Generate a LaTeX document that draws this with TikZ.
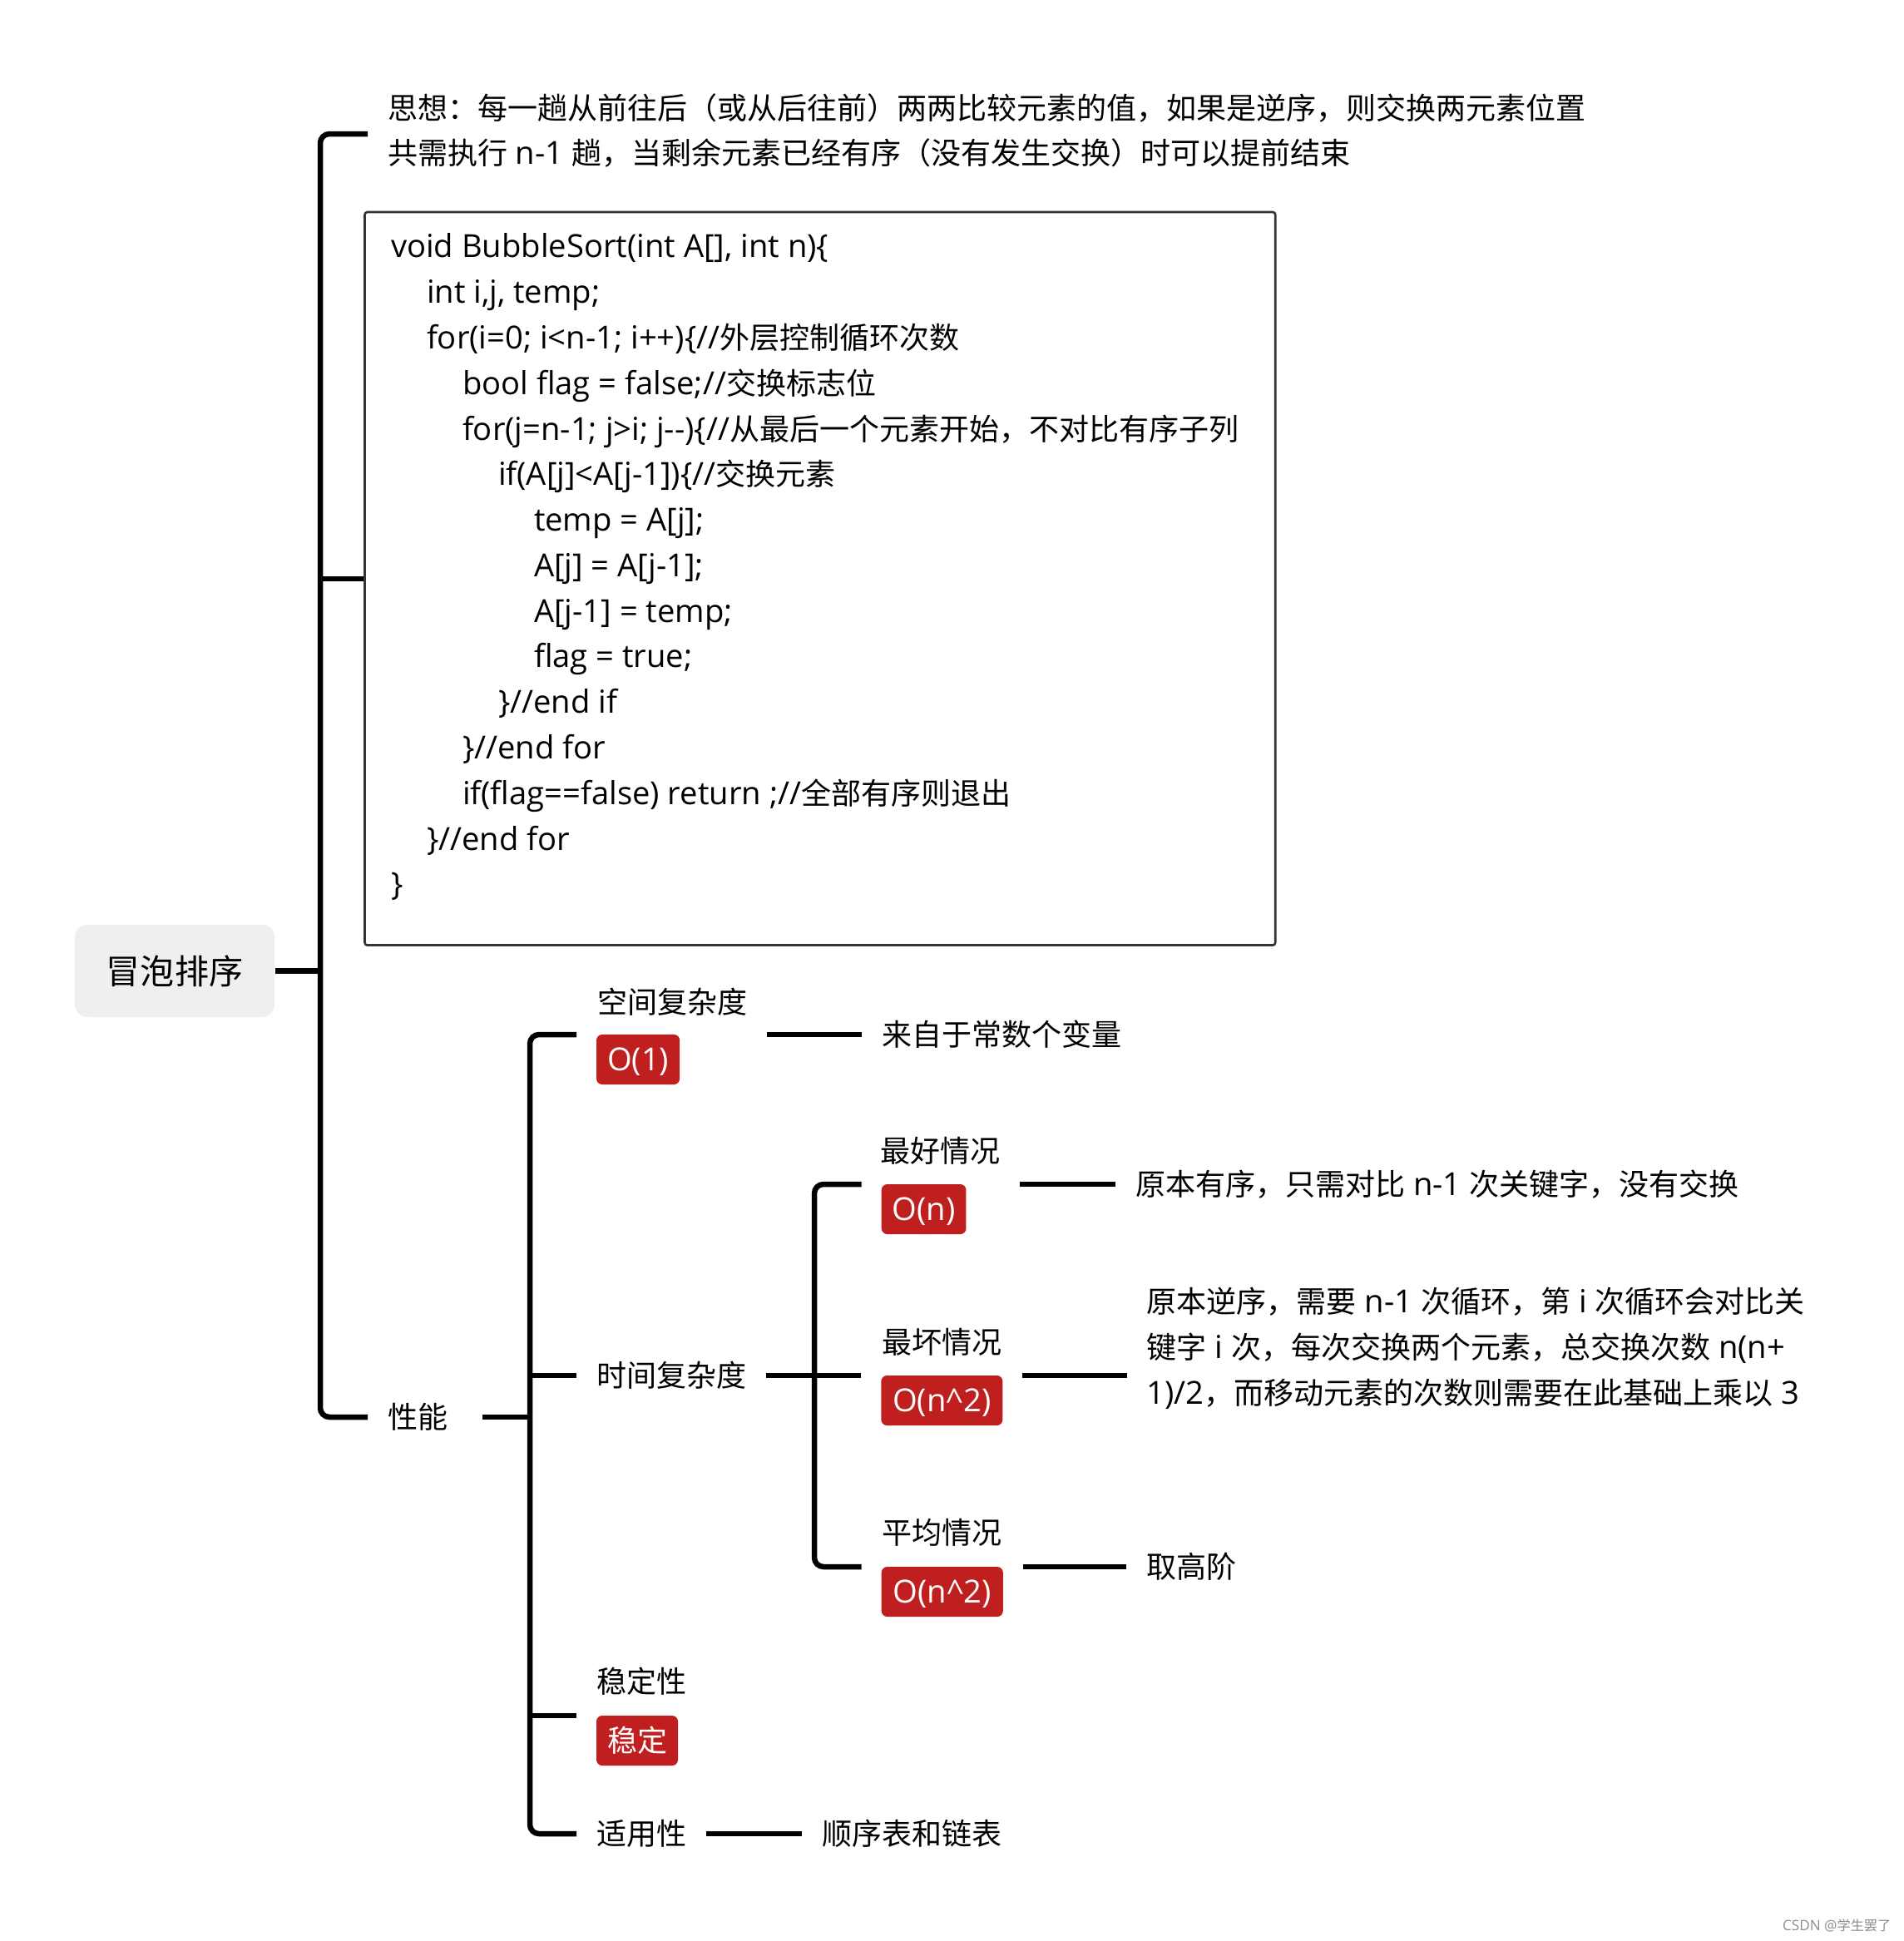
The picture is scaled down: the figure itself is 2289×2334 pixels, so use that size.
\documentclass[tikz,border=0pt]{standalone}
\usepackage{fontspec}
\setmainfont{Open Sans}[Scale=1.06]
\newfontfamily\zhfont{Noto Sans CJK SC}

% CJK characters switch to \zhfont by themselves
\newXeTeXintercharclass\zhclass
\newcount\zhcnt
\newcommand\zhrange[2]{\zhcnt=#1\relax
  \loop\XeTeXcharclass\zhcnt=\zhclass
  \ifnum\zhcnt<#2\advance\zhcnt by 1\repeat}
\zhrange{"3000}{"303F}
\zhrange{"4E00}{"9FFF}
\zhrange{"FF00}{"FFEF}
\XeTeXinterchartoks 0 \zhclass = {\begingroup\zhfont}
\XeTeXinterchartoks 4095 \zhclass = {\begingroup\zhfont}
\XeTeXinterchartoks \zhclass 0 = {\endgroup}
\XeTeXinterchartoks \zhclass 4095 = {\endgroup}
\XeTeXinterchartokenstate=1

\definecolor{tagred}{RGB}{192,31,31}
\definecolor{rootgray}{RGB}{239,239,239}

\newcommand\ind[1]{\hspace*{#1\dimexpr0.43cm\relax}\ignorespaces}
\newcommand\firstline{\rule{0pt}{1em}}
\newcommand\lastline{\rule[-0.5em]{0pt}{0pt}}

\tikzset{
  branch/.style={line width=1.85pt},
  txt/.style={inner sep=0pt, outer xsep=0.24cm, outer ysep=0pt,
    text height=9pt, text depth=1.23pt, anchor=west},
  desc/.style={inner sep=0pt, outer xsep=0.24cm, outer ysep=0pt,
    align=left, anchor=north west},
  tagbox/.style={fill=tagred, text=white, rounded corners=0.07cm,
    inner xsep=0.13cm, inner ysep=0pt, minimum height=0.6cm,
    text height=9pt, text depth=1.23pt, outer xsep=0.24cm, outer ysep=0pt,
    anchor=north west},
  rootbox/.style={fill=rootgray, rounded corners=0.15cm, inner sep=0pt,
    minimum width=2.4cm, minimum height=1.11cm,
    font=\fontsize{11.67pt}{14pt}\selectfont, text height=10.27pt, text depth=1.4pt},
  codebox/.style={draw=black!80, line width=0.75pt, rounded corners=0.03cm,
    inner sep=0pt, minimum width=10.94cm, minimum height=8.81cm},
}

\begin{document}
\begin{tikzpicture}[x=0.01cm, y=-0.01cm, font=\fontsize{10.24pt}{15.58pt}\selectfont]
  \useasboundingbox (0,0) rectangle (2289,2334);

  % root and first level
  \node[rootbox] (root) at (210,1167.5) {冒泡排序};
  \coordinate (j1) at (385,1167.5);

  \node[desc] (idea) at (442,105) {\firstline 思想：每一趟从前往后（或从后往前）两两比较元素的值，如果是逆序，则交换两元素位置\\
    共需执行 n-1 趟，当剩余元素已经有序（没有发生交换）时可以提前结束\lastline};

  \node[codebox] (code) at (985.85,695.8) {};
  \node[desc, outer xsep=0pt] (codetxt) at (470,271.7) {\firstline void BubbleSort(int A[], int n)\{\\
    \ind{1} int i,j, temp;\\
    \ind{1} for(i=0; i<n-1; i++)\{//外层控制循环次数\\
    \ind{2} bool flag = false;//交换标志位\\
    \ind{2} for(j=n-1; j>i; j-{}-)\{//从最后一个元素开始，不对比有序子列\\
    \ind{3} if(A[j]<A[j-1])\{//交换元素\\
    \ind{4} temp = A[j];\\
    \ind{4} A[j] = A[j-1];\\
    \ind{4} A[j-1] = temp;\\
    \ind{4} flag = true;\\
    \ind{3} \}//end if\\
    \ind{2} \}//end for\\
    \ind{2} if(flag==false) return ;//全部有序则退出\\
    \ind{1} \}//end for\\
    \}};

  \node[txt, text width=0.9cm, align=left] (perf) at (442,1704) {性能};
  \coordinate (j2) at (637,1704);

  % second level
  \node[txt] (spaceL) at (694,1205) {空间复杂度};
  \node[tagbox] (spaceT) at (693,1244) {O(1)};
  \node[txt] (spaceD) at (1036,1244) {来自于常数个变量};

  \node[txt] (timeN) at (693,1654) {时间复杂度};
  \coordinate (j3) at (979,1654);

  \node[txt] (stableL) at (693,2022) {稳定性};
  \node[tagbox] (stableT) at (693,2063) {稳定};

  \node[txt] (apply) at (693,2205) {适用性};
  \node[txt] (applyD) at (964,2205) {顺序表和链表};

  % third level
  \node[txt] (bestL) at (1034,1384) {最好情况};
  \node[tagbox] (bestT) at (1035.7,1424) {O(n)};
  \node[txt] (bestD) at (1341,1424) {原本有序，只需对比 n-1 次关键字，没有交换};

  \node[txt] (worstL) at (1036,1614) {最坏情况};
  \node[tagbox, minimum width=1.46cm] (worstT) at (1035.3,1654) {O(n\textasciicircum2)};
  \node[desc] (worstD) at (1354.6,1540.4) {\firstline 原本逆序，需要 n-1 次循环，第 i 次循环会对比关\\
    键字 i 次，每次交换两个元素，总交换次数 n(n+\\
    1)/2，而移动元素的次数则需要在此基础上乘以 3};

  \node[txt] (avgL) at (1036,1843) {平均情况};
  \node[tagbox, minimum width=1.46cm] (avgT) at (1035.7,1884) {O(n\textasciicircum2)};
  \node[txt] (avgD) at (1354,1884) {取高阶};

  \node[anchor=east, inner sep=0pt, text=black!45, font=\fontsize{4.6pt}{5pt}\selectfont] (csdn) at (2274,2315) {CSDN @学生罢了};

  % connectors
  \draw[branch] (root.east) -- (j1);
  \draw[branch, rounded corners=0.11cm] (idea.west) -| (j1) |- (perf.west);
  \draw[branch] (j1 |- code.west) -- (code.west);
  \draw[branch] (perf.east) -- (j2);
  \draw[branch, rounded corners=0.11cm] (spaceT.north west) -| (j2) |- (apply.west);
  \draw[branch] (j2 |- timeN.west) -- (timeN.west);
  \draw[branch] (j2 |- stableT.north west) -- (stableT.north west);
  \draw[branch] (spaceL.east |- spaceT.north) -- (spaceD.west);
  \draw[branch] (timeN.east) -- (worstT.north west);
  \draw[branch, rounded corners=0.11cm] (bestT.north west) -| (j3) |- (avgT.north west);
  \draw[branch] (bestL.east |- bestT.north) -- (bestD.west);
  \draw[branch] (worstT.north east) -- (worstT.north east -| worstD.west);
  \draw[branch] (avgT.north east) -- (avgD.west);
  \draw[branch] (apply.east) -- (applyD.west);
\end{tikzpicture}
\end{document}
